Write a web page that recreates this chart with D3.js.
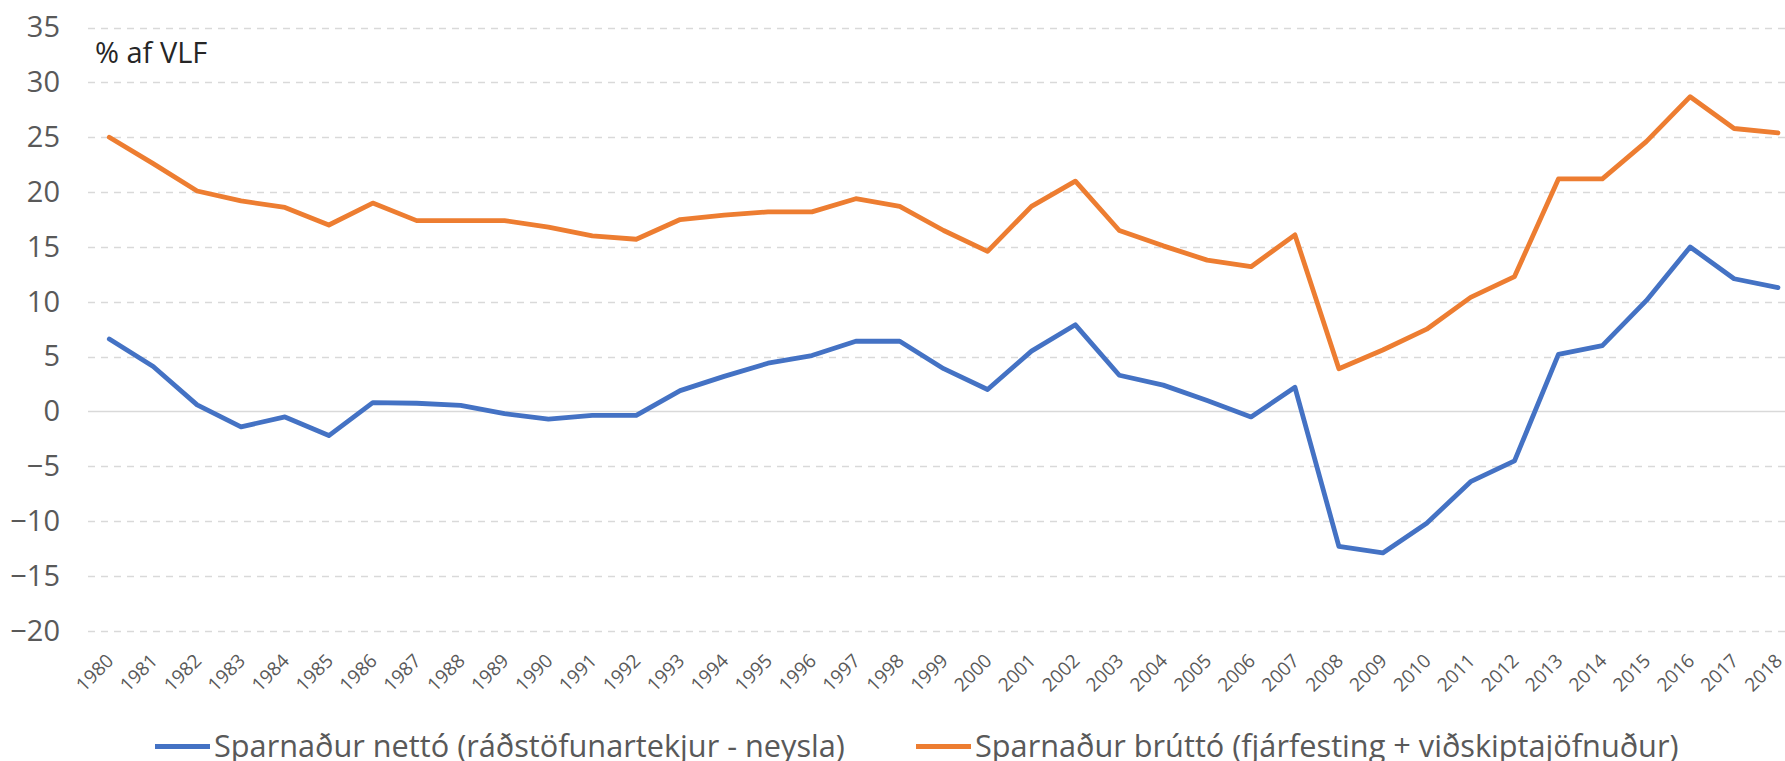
<!DOCTYPE html>
<html>
<head>
<meta charset="utf-8">
<script src="https://cdn.jsdelivr.net/npm/d3@7"></script>
<style>
  html, body { margin: 0; padding: 0; background: #fff; }
  svg { display: block; }
  text { font-family: "Open Sans", "Noto Sans", sans-serif; }
</style>
</head>
<body>
<svg id="chart" width="1785" height="761"></svg>
<script>
const years = d3.range(1980, 2019).map(String);

const nettoValues = [6.6, 4.1, 0.6, -1.4, -0.5, -2.2, 0.8, 0.75, 0.55, -0.2, -0.7, -0.35, -0.35,
  1.9, 3.2, 4.4, 5.1, 6.4, 6.4, 3.9, 2.0, 5.5, 7.9, 3.3, 2.4, 1.0, -0.5, 2.2,
  -12.3, -12.9, -10.2, -6.4, -4.5, 5.2, 6.0, 10.1, 15.0, 12.1, 11.3];

const bruttoValues = [25.0, 22.6, 20.1, 19.2, 18.6, 17.0, 19.0, 17.4, 17.4, 17.4, 16.8, 16.0, 15.7,
  17.5, 17.9, 18.2, 18.2, 19.4, 18.7, 16.5, 14.6, 18.7, 21.0, 16.5, 15.1, 13.8, 13.2, 16.1,
  3.9, 5.6, 7.5, 10.4, 12.3, 21.2, 21.2, 24.6, 28.7, 25.8, 25.4];

const yTicks = [-20, -15, -10, -5, 0, 5, 10, 15, 20, 25, 30, 35];
const seriesNames = ["Sparnaður nettó (ráðstöfunartekjur - neysla)",
                     "Sparnaður brúttó (fjárfesting + viðskiptajöfnuður)"];
const seriesColors = ["#4472C4", "#ED7D31"];
const unitLabel = "% af VLF";

const svg = d3.select("#chart");
const plotLeft = 88, plotRight = 1800;

const x = d3.scalePoint().domain(years).range([109.3, 1778]);
const y = d3.scaleLinear().domain([-20, 35]).range([630.8, 27.6]);

// gridlines
const grid = svg.append("g");
grid.selectAll("line").data(yTicks).join("line")
  .attr("x1", plotLeft).attr("x2", plotRight)
  .attr("y1", d => Math.round(y(d)) + 0.5).attr("y2", d => Math.round(y(d)) + 0.5)
  .attr("stroke", "#d9d9d9")
  .attr("stroke-width", 1.5)
  .attr("stroke-dasharray", d => d === 0 ? null : "7,6");

// y axis labels
const yAxis = d3.axisLeft(y).tickValues(yTicks).tickSize(0).tickPadding(0);
const yg = svg.append("g").attr("transform", "translate(60,0)").call(yAxis);
yg.select(".domain").remove();
yg.selectAll("text")
  .attr("font-size", 29)
  .attr("fill", "#595959")
  .attr("font-family", "'Open Sans', sans-serif");

// x axis labels
const xAxis = d3.axisBottom(x).tickSize(0);
const xg = svg.append("g").attr("transform", "translate(0,631)").call(xAxis);
xg.select(".domain").remove();
xg.selectAll("text")
  .attr("x", 0).attr("y", 0).attr("dy", 0)
  .attr("transform", "translate(5,31) rotate(-45)")
  .attr("text-anchor", "end")
  .attr("font-size", 19)
  .attr("fill", "#595959")
  .attr("font-family", "'Open Sans', sans-serif");

// lines
const line = d3.line().x((d, i) => x(years[i])).y(d => y(d));
[nettoValues, bruttoValues].forEach((vals, k) => {
  svg.append("path")
    .datum(vals)
    .attr("d", line)
    .attr("fill", "none")
    .attr("stroke", seriesColors[k])
    .attr("stroke-width", 4.8)
    .attr("stroke-linejoin", "round")
    .attr("stroke-linecap", "round");
});

// unit label
svg.append("text")
  .attr("x", 95).attr("y", 63)
  .attr("font-size", 29)
  .attr("fill", "#262626")
  .text(unitLabel);

// legend
const legendX = [155, 916];
seriesNames.forEach((name, k) => {
  const g = svg.append("g").attr("transform", `translate(${legendX[k]},746.5)`);
  g.append("line").attr("x1", 0).attr("x2", 55).attr("y1", 0).attr("y2", 0)
    .attr("stroke", seriesColors[k]).attr("stroke-width", 4.8);
  g.append("text").attr("x", 59).attr("y", 0).attr("dy", "0.33em")
    .attr("font-size", 30.7)
    .attr("fill", "#595959")
    .text(name);
});
</script>
</body>
</html>
